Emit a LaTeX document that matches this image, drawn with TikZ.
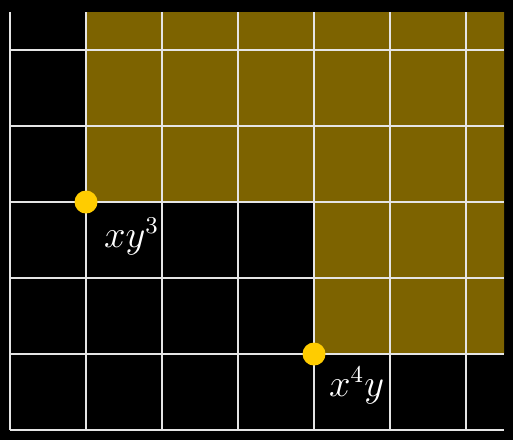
\documentclass[tikz,border=0pt]{standalone}
\begin{document}
\begin{tikzpicture}[x=76pt/2.68,y=76pt/2.68,
  gridline/.style={draw=white!90!black, line width=0.75pt},
  monomial/.style={circle, fill=dotgold, inner sep=0pt, minimum size=23pt/2.68},
  lbl/.style={text=white, font=\fontsize{13.5}{15}\selectfont}]
\definecolor{dotgold}{RGB}{255,204,0}
\definecolor{regionfill}{RGB}{125,99,0}
\fill[black] (-0.1316,-0.1316) rectangle (6.618,5.658);
\useasboundingbox (-0.1316,-0.1316) rectangle (6.618,5.658);
\fill[regionfill] (1,5.5) -- (1,3) -- (4,3) -- (4,1) -- (6.5,1) -- (6.5,5.5) -- cycle;
\foreach \i in {0,...,6} \draw[gridline] (\i,0) -- (\i,5.5);
\foreach \j in {0,...,5} \draw[gridline] (0,\j) -- (6.5,\j);
\node[monomial] (a) at (1,3) {};
\node[monomial] (b) at (4,1) {};
\node[lbl] (la) at (1.6,2.55) {$xy^3$};
\node[lbl] (lb) at (4.56,0.58) {$x^4y$};
\end{tikzpicture}
\end{document}
